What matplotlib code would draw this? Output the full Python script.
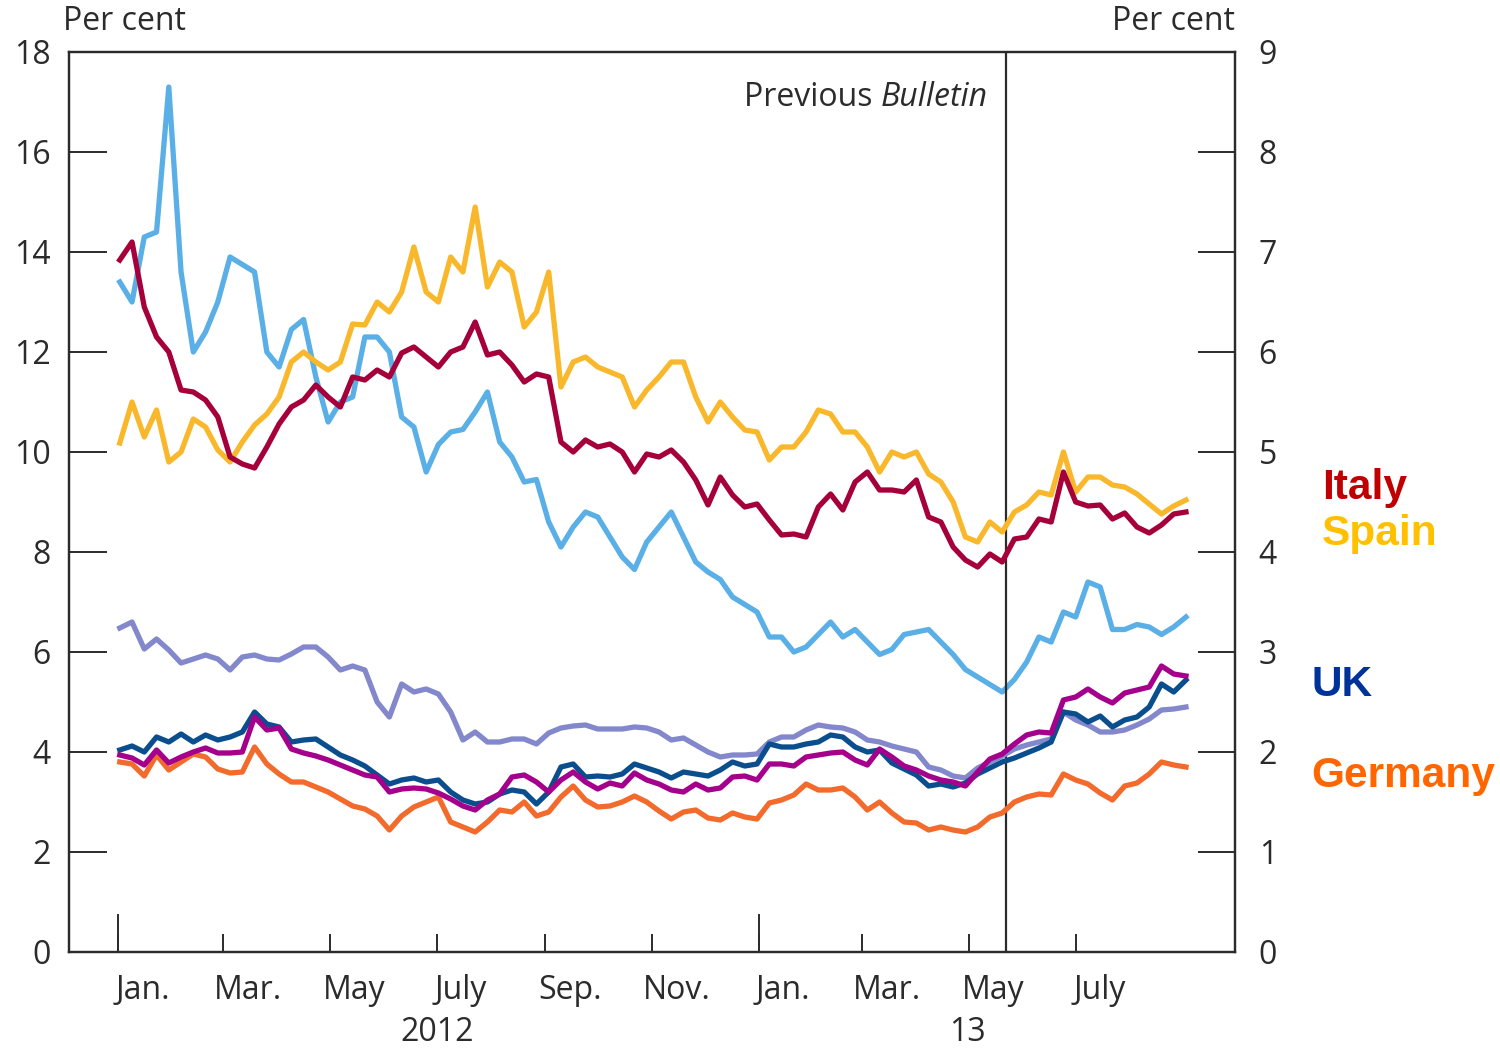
import pandas as pd
import matplotlib
matplotlib.use("Agg")
import matplotlib.pyplot as plt
from matplotlib.transforms import blended_transform_factory

plt.rcParams["font.family"] = ["Open Sans", "DejaVu Sans"]

# weekly observations, Jan. 2012 to end Aug. 2013
dates = pd.date_range("2012-01-02", periods=88, freq="7D")

# left-hand scale (per cent)
portugal = [
    13.4, 13.0, 14.3, 14.4, 17.3, 13.6, 12.0, 12.4, 13.0, 13.9,
    13.75, 13.6, 12.0, 11.7, 12.45, 12.65, 11.5, 10.6, 11.0, 11.1,
    12.3, 12.3, 12.0, 10.7, 10.5, 9.6, 10.15, 10.4, 10.45, 10.8,
    11.2, 10.2, 9.9, 9.4, 9.45, 8.6, 8.1, 8.5, 8.8, 8.7,
    8.3, 7.9, 7.65, 8.2, 8.5, 8.8, 8.3, 7.8, 7.6, 7.45,
    7.1, 6.95, 6.8, 6.3, 6.3, 6.0, 6.1, 6.35, 6.6, 6.3,
    6.45, 6.2, 5.95, 6.05, 6.35, 6.4, 6.45, 6.2, 5.95, 5.65,
    5.5, 5.35, 5.2, 5.45, 5.8, 6.3, 6.2, 6.8, 6.7, 7.4,
    7.3, 6.45, 6.45, 6.55, 6.5, 6.35, 6.5, 6.7,
]

# right-hand scale (per cent)
spain = [
    5.09, 5.5, 5.15, 5.42, 4.9, 5.0, 5.33, 5.25, 5.02, 4.9,
    5.1, 5.27, 5.38, 5.55, 5.9, 6.0, 5.9, 5.82, 5.9, 6.28,
    6.27, 6.5, 6.4, 6.6, 7.05, 6.6, 6.5, 6.95, 6.8, 7.45,
    6.65, 6.9, 6.8, 6.25, 6.4, 6.8, 5.65, 5.9, 5.95, 5.85,
    5.8, 5.75, 5.45, 5.62, 5.75, 5.9, 5.9, 5.55, 5.3, 5.5,
    5.35, 5.22, 5.2, 4.92, 5.05, 5.05, 5.2, 5.42, 5.38, 5.2,
    5.2, 5.05, 4.8, 5.0, 4.95, 5.0, 4.78, 4.7, 4.5, 4.15,
    4.1, 4.3, 4.2, 4.4, 4.47, 4.6, 4.57, 5.0, 4.6, 4.75,
    4.75, 4.67, 4.65, 4.58, 4.48, 4.38, 4.46, 4.52,
]
italy = [
    6.92, 7.1, 6.45, 6.15, 6.0, 5.62, 5.6, 5.52, 5.35, 4.95,
    4.88, 4.84, 5.05, 5.28, 5.45, 5.52, 5.67, 5.55, 5.45, 5.75,
    5.72, 5.82, 5.75, 5.99, 6.05, 5.95, 5.85, 6.0, 6.05, 6.3,
    5.97, 6.0, 5.87, 5.7, 5.78, 5.75, 5.1, 5.0, 5.12, 5.05,
    5.08, 5.0, 4.8, 4.98, 4.95, 5.02, 4.9, 4.72, 4.47, 4.75,
    4.57, 4.45, 4.48, 4.32, 4.17, 4.18, 4.15, 4.45, 4.58, 4.42,
    4.7, 4.8, 4.62, 4.62, 4.6, 4.72, 4.35, 4.3, 4.05, 3.92,
    3.85, 3.98, 3.9, 4.13, 4.15, 4.33, 4.3, 4.8, 4.5, 4.46,
    4.47, 4.33, 4.39, 4.25, 4.19, 4.27, 4.38, 4.4,
]
france = [
    3.24, 3.3, 3.03, 3.13, 3.02, 2.89, 2.93, 2.97, 2.93, 2.82,
    2.95, 2.97, 2.93, 2.92, 2.98, 3.05, 3.05, 2.95, 2.82, 2.86,
    2.82, 2.5, 2.35, 2.68, 2.6, 2.63, 2.58, 2.4, 2.12, 2.2,
    2.1, 2.1, 2.13, 2.13, 2.08, 2.19, 2.24, 2.26, 2.27, 2.23,
    2.23, 2.23, 2.25, 2.24, 2.2, 2.12, 2.14, 2.07, 2.0, 1.95,
    1.97, 1.97, 1.98, 2.1, 2.15, 2.15, 2.22, 2.27, 2.25, 2.24,
    2.2, 2.12, 2.1, 2.06, 2.03, 2.0, 1.85, 1.82, 1.76, 1.74,
    1.84, 1.9, 1.96, 2.03, 2.07, 2.1, 2.13, 2.4, 2.32, 2.27,
    2.2, 2.2, 2.22, 2.27, 2.33, 2.42, 2.43, 2.45,
]
uk = [
    2.02, 2.06, 2.0, 2.15, 2.1, 2.18, 2.1, 2.17, 2.12, 2.15,
    2.2, 2.4, 2.28, 2.25, 2.1, 2.12, 2.13, 2.05, 1.97, 1.92,
    1.86, 1.77, 1.68, 1.72, 1.74, 1.7, 1.72, 1.6, 1.52, 1.48,
    1.5, 1.58, 1.62, 1.6, 1.48, 1.6, 1.85, 1.88, 1.75, 1.76,
    1.75, 1.78, 1.88, 1.84, 1.8, 1.74, 1.8, 1.78, 1.76, 1.82,
    1.9, 1.86, 1.88, 2.08, 2.05, 2.05, 2.08, 2.1, 2.17, 2.15,
    2.05, 2.0, 2.02, 1.89, 1.83, 1.77, 1.66, 1.68, 1.65, 1.69,
    1.78, 1.84, 1.9, 1.94, 1.99, 2.04, 2.1, 2.4, 2.38, 2.3,
    2.36, 2.25, 2.32, 2.35, 2.45, 2.68, 2.6, 2.72,
]
us = [
    1.97, 1.94, 1.87, 2.02, 1.89, 1.95, 2.0, 2.04, 1.99, 1.99,
    2.0, 2.35, 2.22, 2.24, 2.03, 1.99, 1.96, 1.92, 1.87, 1.82,
    1.77, 1.75, 1.6, 1.63, 1.64, 1.63, 1.59, 1.53, 1.46, 1.42,
    1.52, 1.58, 1.75, 1.77, 1.7, 1.6, 1.72, 1.8, 1.7, 1.63,
    1.69, 1.66, 1.79, 1.72, 1.68, 1.62, 1.6, 1.68, 1.62, 1.64,
    1.75, 1.76, 1.72, 1.88, 1.88, 1.86, 1.95, 1.97, 1.99, 2.0,
    1.92, 1.87, 2.03, 1.95, 1.86, 1.82, 1.76, 1.72, 1.7, 1.66,
    1.8, 1.93, 1.98, 2.08, 2.17, 2.2, 2.19, 2.52, 2.55, 2.63,
    2.55, 2.49, 2.59, 2.62, 2.65, 2.86, 2.78, 2.76,
]
germany = [
    1.9, 1.88, 1.76, 1.97, 1.82, 1.9, 1.98, 1.95, 1.83, 1.79,
    1.8, 2.05, 1.88, 1.78, 1.7, 1.7, 1.65, 1.6, 1.53, 1.46,
    1.43, 1.36, 1.22, 1.36, 1.45, 1.5, 1.55, 1.3, 1.25, 1.2,
    1.3, 1.42, 1.4, 1.5, 1.36, 1.4, 1.55, 1.66, 1.52, 1.45,
    1.46, 1.5, 1.56, 1.5, 1.41, 1.33, 1.4, 1.42, 1.34, 1.32,
    1.39, 1.35, 1.33, 1.49, 1.52, 1.57, 1.68, 1.62, 1.62, 1.64,
    1.55, 1.42, 1.5, 1.39, 1.3, 1.29, 1.22, 1.25, 1.22, 1.2,
    1.25, 1.35, 1.39, 1.5, 1.55, 1.58, 1.57, 1.78, 1.72, 1.68,
    1.59, 1.52, 1.66, 1.69, 1.78, 1.9, 1.87, 1.85,
]

previous_bulletin = pd.Timestamp("2013-05-22")
month_starts = pd.date_range("2012-01-01", "2013-07-01", freq="2MS")
year_starts = pd.to_datetime(["2012-01-01", "2013-01-01"])
month_labels = ["Jan.", "Mar.", "May", "July", "Sep.", "Nov.",
                "Jan.", "Mar.", "May", "July"]
year_labels = ["2012", "13"]
year_label_dates = pd.to_datetime(["2012-07-01", "2013-04-30"])

INK = "#2b2b2b"
FS = 23

fig = plt.figure(figsize=(15, 10.51), dpi=100)
ax = fig.add_axes([69 / 1500, 1 - 952 / 1051, (1235 - 69) / 1500, 900 / 1051])
ax2 = ax.twinx()

lw = 3.8
ax2.plot(dates, france, color="#8387CC", lw=lw)
ax2.plot(dates, germany, color="#F26A2C", lw=lw)
ax2.plot(dates, uk, color="#0B4E8E", lw=lw)
ax2.plot(dates, us, color="#A4008C", lw=lw)
ax2.plot(dates, spain, color="#F9B82B", lw=lw)
ax2.plot(dates, italy, color="#A5003A", lw=lw)
ax.plot(dates, portugal, color="#5AAFE6", lw=lw)

ax.axvline(previous_bulletin, color=INK, lw=1.6)

ax.set_xlim(pd.Timestamp("2011-12-04"), pd.Timestamp("2013-09-30"))
ax.set_ylim(0, 18)
ax2.set_ylim(0, 9)
ax.set_yticks(range(0, 19, 2))
ax2.set_yticks(range(0, 10))

for a in (ax, ax2):
    for s in a.spines.values():
        s.set_color(INK)
        s.set_linewidth(1.6)

ax.tick_params(axis="y", direction="in", length=27, width=1.4, color=INK,
               labelsize=FS, labelcolor=INK, pad=13)
ax2.tick_params(axis="y", direction="in", length=27, width=1.4, color=INK,
                labelsize=FS, labelcolor=INK, pad=17)

# x axis: short marks at odd-month starts, labels centred mid-month
ax.set_xticks(month_starts, minor=True)
ax.set_xticks([d + pd.Timedelta(days=14) for d in month_starts])
ax.set_xticklabels(month_labels)
ax.tick_params(axis="x", which="minor", direction="in", length=13, width=1.4, color=INK)
ax.tick_params(axis="x", which="major", length=0, labelsize=FS, labelcolor=INK, pad=16)

trans = blended_transform_factory(ax.transData, ax.transAxes)
# longer marks at the turn of each year
for d in year_starts:
    ax.plot([d, d], [0, 37 / 900], transform=trans, color=INK, lw=1.4,
            clip_on=False)
for d, lab in zip(year_label_dates, year_labels):
    ax.text(d, -0.089, lab, transform=trans, ha="center", va="center",
            fontsize=FS, color=INK)

t = ax.text(previous_bulletin - pd.Timedelta(days=10), 0.95, "Bulletin",
            transform=trans, ha="right", va="center", fontsize=FS,
            color=INK, style="italic")
ax.annotate("Previous ", xy=(0, 0.5), xycoords=t, ha="right", va="center",
            fontsize=FS, color=INK)

fig.text(63 / 1500, 1 - 22 / 1051, "Per cent", ha="left", va="center",
         fontsize=FS, color=INK)
fig.text(1235 / 1500, 1 - 22 / 1051, "Per cent", ha="right", va="center",
         fontsize=FS, color=INK)

lab_kw = dict(fontsize=30.5, fontweight="bold", va="center", ha="left",
              family=["Liberation Sans", "DejaVu Sans"])
fig.text(1322 / 1500, 1 - 488 / 1051, "Italy", color="#C00000", **lab_kw)
fig.text(1322 / 1500, 1 - 534 / 1051, "Spain", color="#FFC000", **lab_kw)
fig.text(1311 / 1500, 1 - 685 / 1051, "UK", color="#003399", **lab_kw)
fig.text(1311 / 1500, 1 - 776 / 1051, "Germany", color="#FF6600", **lab_kw)

fig.savefig("out.png", dpi=100)
